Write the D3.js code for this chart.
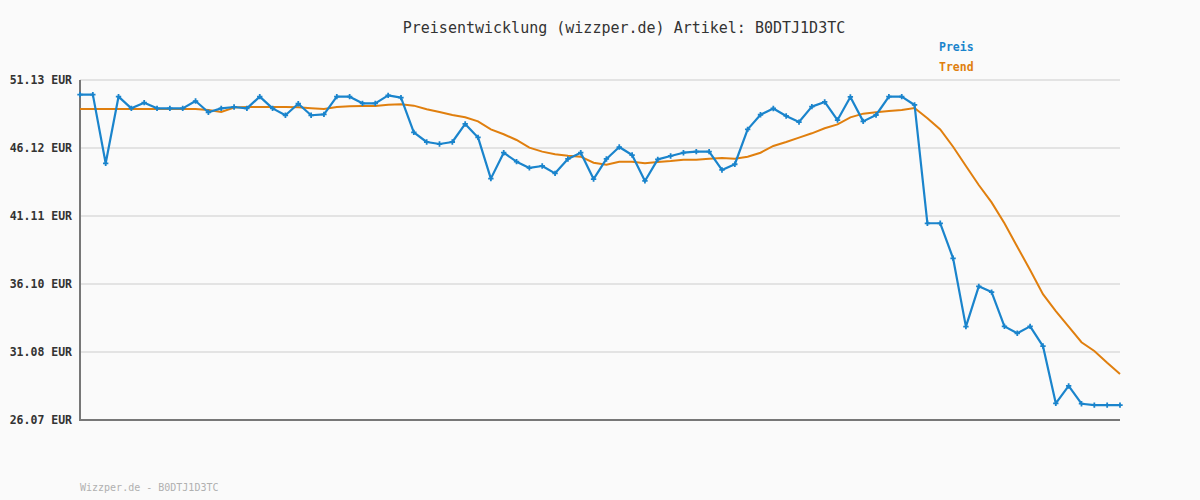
<!DOCTYPE html>
<html><head><meta charset="utf-8">
<script src="https://cdn.jsdelivr.net/npm/d3@7"></script>
<style>
html,body{margin:0;padding:0;background:#fafafa;}
svg{display:block;}
</style></head>
<body>
<svg id="chart" width="1200" height="500"></svg>
<script>
const titleText = "Preisentwicklung (wizzper.de) Artikel: B0DTJ1D3TC";
const footerText = "Wizzper.de - B0DTJ1D3TC";
const seriesNames = ["Preis", "Trend"];
const yTicks = [51.13, 46.12, 41.11, 36.10, 31.08, 26.07];
const yTickLabels = ["51.13 EUR", "46.12 EUR", "41.11 EUR", "36.10 EUR", "31.08 EUR", "26.07 EUR"];
const preis = [
  50.05, 50.05, 44.99, 49.90, 49.04, 49.46, 49.04, 49.04, 49.04, 49.58,
  48.75, 49.04, 49.14, 49.04, 49.90, 49.04, 48.53, 49.38, 48.53, 48.60,
  49.90, 49.90, 49.41, 49.41, 50.00, 49.83, 47.27, 46.56, 46.41, 46.56,
  47.89, 46.90, 43.86, 45.77, 45.11, 44.65, 44.79, 44.25, 45.31, 45.77,
  43.83, 45.31, 46.19, 45.60, 43.69, 45.28, 45.53, 45.77, 45.85, 45.85,
  44.50, 44.92, 47.49, 48.57, 49.03, 48.48, 48.03, 49.17, 49.51, 48.18,
  49.88, 48.08, 48.55, 49.90, 49.90, 49.29, 40.57, 40.57, 37.99, 32.95,
  35.92, 35.50, 32.97, 32.46, 32.97, 31.52, 27.30, 28.58, 27.27, 27.17,
  27.17, 27.17
];
const trend = [
  49.00, 49.00, 49.00, 49.00, 49.00, 49.00, 49.00, 49.00, 49.00, 49.00,
  48.92, 48.77, 49.10, 49.14, 49.14, 49.14, 49.14, 49.12, 49.05, 48.99,
  49.14, 49.20, 49.22, 49.22, 49.30, 49.34, 49.24, 48.97, 48.77, 48.55,
  48.38, 48.08, 47.49, 47.13, 46.71, 46.14, 45.85, 45.65, 45.55, 45.48,
  45.03, 44.89, 45.11, 45.11, 44.99, 45.09, 45.16, 45.26, 45.26, 45.33,
  45.38, 45.33, 45.48, 45.77, 46.27, 46.56, 46.88, 47.20, 47.57, 47.86,
  48.38, 48.65, 48.75, 48.85, 48.92, 49.07, 48.31, 47.49, 46.21, 44.79,
  43.39, 42.11, 40.57, 38.84, 37.13, 35.34, 34.10, 32.95, 31.80, 31.16,
  30.29, 29.46
];
const colors = ["#1a84cc", "#e07f0e"];

const svg = d3.select("#chart");
const mLeft = 80, mRight = 1120, mTop = 80, mBottom = 420;
const x = d3.scaleLinear().domain([0, preis.length - 1]).range([mLeft, mRight]);
const y = d3.scaleLinear().domain([26.07, 51.13]).range([mBottom, mTop]);

svg.append("rect").attr("width", 1200).attr("height", 500).attr("fill", "#fafafa");

// gridlines
svg.append("g").selectAll("line").data(yTicks).join("line")
  .attr("x1", mLeft).attr("x2", mRight)
  .attr("y1", d => y(d)).attr("y2", d => y(d))
  .attr("stroke", "#e3e3e3").attr("stroke-width", 2);

// y axis
const yAxis = d3.axisLeft(y).tickValues(yTicks).tickSize(0).tickPadding(8)
  .tickFormat((d, i) => yTickLabels[i]);
const gy = svg.append("g").attr("transform", `translate(${mLeft},0)`).call(yAxis);
gy.select(".domain").remove();
gy.selectAll("text").attr("font-family", "DejaVu Sans Mono, monospace")
  .attr("font-size", 11.5).attr("font-weight", "bold").attr("fill", "#333");

// axis lines
svg.append("line").attr("x1", mLeft).attr("x2", mLeft).attr("y1", mTop).attr("y2", mBottom + 1)
  .attr("stroke", "#777").attr("stroke-width", 2);
svg.append("line").attr("x1", mLeft - 1).attr("x2", mRight).attr("y1", mBottom).attr("y2", mBottom)
  .attr("stroke", "#777").attr("stroke-width", 2);

const line = d3.line().x((d, i) => x(i)).y(d => y(d));

svg.append("path").datum(trend).attr("d", line)
  .attr("fill", "none").attr("stroke", colors[1]).attr("stroke-width", 2);
svg.append("path").datum(preis).attr("d", line)
  .attr("fill", "none").attr("stroke", colors[0]).attr("stroke-width", 2.2)
  .attr("stroke-linejoin", "round");
svg.append("g").selectAll("path").data(preis).join("path")
  .attr("transform", (d, i) => `translate(${x(i)},${y(d)})`)
  .attr("d", d3.symbol(d3.symbolCross, 16))
  .attr("fill", colors[0]);

// title
svg.append("text").attr("x", 624).attr("y", 33).attr("text-anchor", "middle")
  .attr("font-family", "DejaVu Sans Mono, monospace").attr("font-size", 15)
  .attr("fill", "#333").text(titleText);

// legend
svg.append("g").selectAll("text").data(seriesNames).join("text")
  .attr("x", 939).attr("y", (d, i) => 51 + i * 20)
  .attr("font-family", "DejaVu Sans Mono, monospace").attr("font-size", 11.5)
  .attr("font-weight", "bold").attr("fill", (d, i) => colors[i]).text(d => d);

// footer
svg.append("text").attr("x", 80).attr("y", 491)
  .attr("font-family", "DejaVu Sans Mono, monospace").attr("font-size", 10)
  .attr("fill", "#b0b0b0").text(footerText);
</script>
</body></html>
